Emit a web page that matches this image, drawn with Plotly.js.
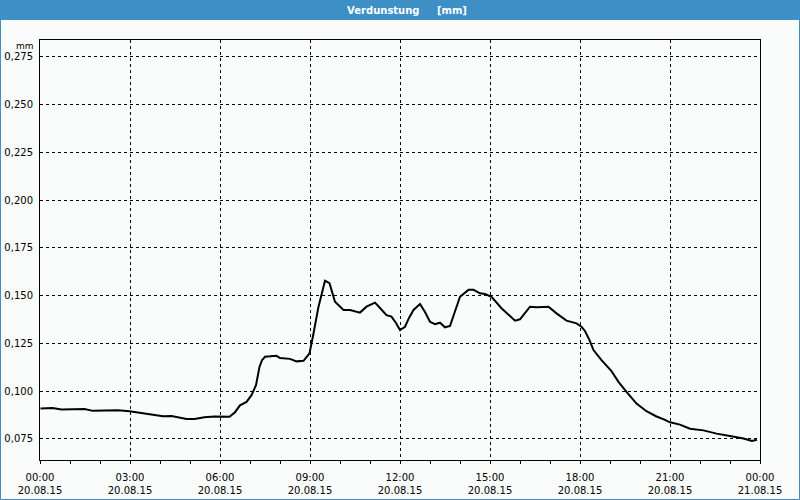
<!DOCTYPE html>
<html>
<head>
<meta charset="utf-8">
<script src="https://cdn.plot.ly/plotly-3.0.1.min.js"></script>
<style>html,body{margin:0;padding:0;background:#f9fcfb;}#chart{width:800px;height:500px;}</style>
</head>
<body>
<div id="chart"></div>
<script>
// Data (20.08.15)
const times = ["2015-08-20 00:01","2015-08-20 00:25","2015-08-20 00:43","2015-08-20 01:23","2015-08-20 01:29","2015-08-20 01:46","2015-08-20 02:16","2015-08-20 02:36","2015-08-20 02:59","2015-08-20 03:29","2015-08-20 03:46","2015-08-20 04:06","2015-08-20 04:23","2015-08-20 04:53","2015-08-20 05:09","2015-08-20 05:29","2015-08-20 05:49","2015-08-20 06:19","2015-08-20 06:30","2015-08-20 06:40","2015-08-20 06:53","2015-08-20 07:03","2015-08-20 07:12","2015-08-20 07:19","2015-08-20 07:24","2015-08-20 07:30","2015-08-20 07:53","2015-08-20 08:00","2015-08-20 08:20","2015-08-20 08:33","2015-08-20 08:47","2015-08-20 08:59","2015-08-20 09:07","2015-08-20 09:17","2015-08-20 09:30","2015-08-20 09:39","2015-08-20 09:50","2015-08-20 10:07","2015-08-20 10:20","2015-08-20 10:40","2015-08-20 10:53","2015-08-20 11:10","2015-08-20 11:20","2015-08-20 11:33","2015-08-20 11:43","2015-08-20 11:52","2015-08-20 12:00","2015-08-20 12:10","2015-08-20 12:18","2015-08-20 12:27","2015-08-20 12:40","2015-08-20 12:50","2015-08-20 13:00","2015-08-20 13:10","2015-08-20 13:20","2015-08-20 13:30","2015-08-20 13:40","2015-08-20 13:50","2015-08-20 14:00","2015-08-20 14:17","2015-08-20 14:27","2015-08-20 14:40","2015-08-20 14:50","2015-08-20 15:03","2015-08-20 15:23","2015-08-20 15:40","2015-08-20 15:50","2015-08-20 16:00","2015-08-20 16:20","2015-08-20 16:33","2015-08-20 16:57","2015-08-20 17:13","2015-08-20 17:33","2015-08-20 17:53","2015-08-20 18:03","2015-08-20 18:10","2015-08-20 18:19","2015-08-20 18:27","2015-08-20 18:43","2015-08-20 19:03","2015-08-20 19:17","2015-08-20 19:33","2015-08-20 19:53","2015-08-20 20:13","2015-08-20 20:32","2015-08-20 20:50","2015-08-20 21:00","2015-08-20 21:20","2015-08-20 21:40","2015-08-20 22:07","2015-08-20 22:33","2015-08-20 23:00","2015-08-20 23:27","2015-08-20 23:44","2015-08-20 23:54"];
const values = [0.0909,0.0912,0.0904,0.0904,0.0907,0.0897,0.0897,0.0900,0.0895,0.0883,0.0879,0.0869,0.0870,0.0855,0.0855,0.0864,0.0867,0.0866,0.0890,0.0926,0.0944,0.0979,0.1031,0.1127,0.1162,0.1180,0.1185,0.1173,0.1169,0.1156,0.1159,0.1198,0.1302,0.1442,0.1578,0.1565,0.1468,0.1425,0.1425,0.1411,0.1442,0.1463,0.1435,0.1398,0.1390,0.1357,0.1320,0.1337,0.1383,0.1425,0.1456,0.1414,0.1363,0.1350,0.1358,0.1334,0.1341,0.1420,0.1494,0.1530,0.1530,0.1512,0.1508,0.1494,0.1434,0.1393,0.1369,0.1376,0.1442,0.1439,0.1442,0.1407,0.1369,0.1355,0.1337,0.1315,0.1267,0.1215,0.1162,0.1105,0.1049,0.0996,0.0935,0.0895,0.0869,0.0850,0.0837,0.0825,0.0804,0.0795,0.0778,0.0765,0.0752,0.0739,0.0746];
const xTickVals = ["2015-08-20 00:00","2015-08-20 03:00","2015-08-20 06:00","2015-08-20 09:00","2015-08-20 12:00","2015-08-20 15:00","2015-08-20 18:00","2015-08-20 21:00","2015-08-21 00:00"];
const xTickTime = ["00:00","03:00","06:00","09:00","12:00","15:00","18:00","21:00","00:00"];
const xTickDate = ["20.08.15","20.08.15","20.08.15","20.08.15","20.08.15","20.08.15","20.08.15","20.08.15","21.08.15"];
const yTickVals = [0.075,0.100,0.125,0.150,0.175,0.200,0.225,0.250,0.275];
const titleText = "Verdunstung\u00a0\u00a0\u00a0\u00a0\u00a0[mm]";
const unitText = "mm";

const W = 800, H = 500, L = 40, R = 40, T = 40, B = 40;
const pw = W - L - R, ph = H - T - B;
const blue = "#3d8fc6";
const font = {family: "DejaVu Sans", size: 10, color: "#000"};

const trace = {
  x: times, y: values, type: "scatter", mode: "lines",
  line: {color: "#000", width: 2}, hoverinfo: "skip"
};

const layout = {
  width: W, height: H,
  margin: {l: L, r: R, t: T, b: B, pad: 0},
  paper_bgcolor: "#f9fcfb", plot_bgcolor: "#f9fcfb",
  separators: ",.",
  showlegend: false,
  font: font,
  title: {
    text: titleText,
    font: {family: "DejaVu Sans", size: 10, color: "#ffffff", weight: "bold"},
    x: 407 / W, xanchor: "center", xref: "container",
    y: 1 - 10 / H, yanchor: "middle", yref: "container"
  },
  xaxis: {
    type: "date",
    range: ["2015-08-20 00:00", "2015-08-21 00:00"],
    tickmode: "array", tickvals: xTickVals,
    ticktext: xTickVals.map((v, i) => xTickTime[i] + "<br>" + xTickDate[i]),
    ticks: "outside", ticklen: 3, tickcolor: "#000", tickwidth: 1,
    minor: {dtick: 3600000, ticks: "outside", ticklen: 3, tickcolor: "#000", showgrid: false},
    showline: true, linecolor: "#000", linewidth: 1, mirror: true,
    showgrid: true, gridcolor: "#000", gridwidth: 1, griddash: "3px,3px",
    zeroline: false, tickfont: font, ticklabelstandoff: 5
  },
  yaxis: {
    range: [0.064, 0.2837],
    tickmode: "array", tickvals: yTickVals, tickformat: ".3f",
    ticks: "", showline: true, linecolor: "#000", linewidth: 1, mirror: true,
    showgrid: true, gridcolor: "#000", gridwidth: 1, griddash: "3px,3px",
    zeroline: false, tickfont: font, ticklabelstandoff: 4
  },
  shapes: [
    {type: "rect", xref: "paper", yref: "paper", layer: "below",
     x0: -L / pw, x1: (W - L) / pw, y0: 1 + (T - 20) / ph, y1: 1 + T / ph,
     fillcolor: blue, line: {width: 0}},
    {type: "rect", xref: "paper", yref: "paper", layer: "below",
     x0: (-L + 0.5) / pw, x1: (W - L - 0.5) / pw, y0: (-B + 0.5) / ph, y1: 1 + (T - 0.5) / ph,
     fillcolor: "rgba(0,0,0,0)", line: {color: blue, width: 1}}
  ],
  annotations: [
    {text: unitText, xref: "paper", yref: "paper", x: 0, y: 1 - 6 / ph,
     xanchor: "right", yanchor: "middle", xshift: -4, showarrow: false,
     font: {family: "DejaVu Sans", size: 9, color: "#000"}}
  ]
};

Plotly.newPlot("chart", [trace], layout, {staticPlot: true, displayModeBar: false});
</script>
</body>
</html>
